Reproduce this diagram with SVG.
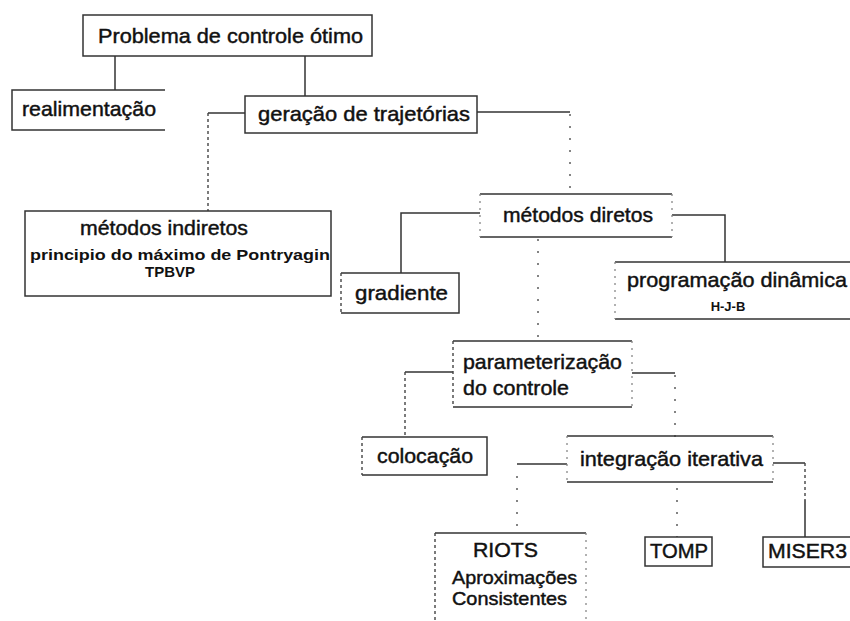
<svg xmlns="http://www.w3.org/2000/svg" width="850" height="621" viewBox="0 0 850 621">
<style>
  .bg{fill:#ffffff}
  .edge{fill:none;stroke:#333;stroke-width:1.5}
  .faint{fill:none;stroke:#888;stroke-width:1.3;stroke-dasharray:2 5}
  .dash{fill:none;stroke:#444;stroke-width:1.4;stroke-dasharray:3 3}
  .dot{fill:none;stroke:#666;stroke-width:1.6;stroke-dasharray:2 10}
  text{font-family:"Liberation Sans",Arial,sans-serif;fill:#111;font-size:21px;stroke:#111;stroke-width:0.45}
  .sm{font-size:14px;font-weight:bold;stroke-width:0}
  .mid{font-size:19px}
</style>
<rect class="bg" x="0" y="0" width="850" height="621"/>

<g id="connectors">
  <path class="edge" d="M115,56 V90"/>
  <path class="edge" d="M305,56 V96"/>
  <path class="edge" d="M245,113 H208"/>
  <path class="dash" d="M208,113 V211"/>
  <path class="edge" d="M477,112 H570"/>
  <path class="dot" d="M570,114 V194"/>
  <path class="edge" d="M480,213 H401 V273"/>
  <path class="edge" d="M672,215 H725 V262"/>
  <path class="dot" d="M538,239 V341"/>
  <path class="edge" d="M453,372 H405"/>
  <path class="dash" d="M405,372 V437"/>
  <path class="edge" d="M632,373 H675"/>
  <path class="dot" d="M675,375 V437"/>
  <path class="edge" d="M517,464 H567"/>
  <path class="dot" d="M517,476 V533"/>
  <path class="dot" d="M677,488 V537"/>
  <path class="edge" d="M773,463 H805"/>
  <path class="dash" d="M805,463 V500"/>
  <path class="edge" d="M805,500 V537"/>
</g>

<g id="n-problema">
  <rect class="edge" x="83" y="15" width="289" height="41"/>
  <text x="98" y="43" textLength="265" lengthAdjust="spacingAndGlyphs">Problema de controle ótimo</text>
</g>

<g id="n-realimentacao">
  <path class="edge" d="M165,90 H12 V130 H165"/>
  <text x="22" y="116" textLength="134" lengthAdjust="spacingAndGlyphs">realimentação</text>
</g>

<g id="n-geracao">
  <rect class="edge" x="245" y="96" width="232" height="37"/>
  <text x="258" y="121" textLength="212" lengthAdjust="spacingAndGlyphs">geração de trajetórias</text>
</g>

<g id="n-indiretos">
  <rect class="edge" x="25" y="211" width="306" height="85"/>
  <text x="80" y="235" textLength="168" lengthAdjust="spacingAndGlyphs">métodos indiretos</text>
  <text class="sm" x="30" y="260" textLength="300" lengthAdjust="spacingAndGlyphs">principio do máximo de Pontryagin</text>
  <text class="sm" x="170" y="277" text-anchor="middle" style="font-size:15px">TPBVP</text>
</g>

<g id="n-diretos">
  <path class="edge" d="M480,194 H672 M480,237 H672"/>
  <path class="faint" d="M480,194 V237 M672,194 V237"/>
  <text x="503" y="222" textLength="150" lengthAdjust="spacingAndGlyphs">métodos diretos</text>
</g>

<g id="n-gradiente">
  <path class="edge" d="M341,273 H459 V313 H341"/>
  <path class="dash" d="M341,273 V313"/>
  <text x="355" y="300" textLength="93" lengthAdjust="spacingAndGlyphs">gradiente</text>
</g>

<g id="n-programacao">
  <path class="edge" d="M615,262 H850 M615,319 H850"/>
  <path class="faint" d="M615,262 V319"/>
  <text x="627" y="287" textLength="220" lengthAdjust="spacingAndGlyphs">programação dinâmica</text>
  <text class="sm" x="728" y="311" text-anchor="middle" style="font-size:13px">H-J-B</text>
</g>

<g id="n-parameterizacao">
  <path class="edge" d="M453,341 H632 M453,407 H632"/>
  <path class="dash" d="M453,341 V407"/>
  <path class="faint" d="M632,341 V407"/>
  <text x="463" y="369" textLength="159" lengthAdjust="spacingAndGlyphs">parameterização</text>
  <text x="463" y="395" textLength="106" lengthAdjust="spacingAndGlyphs">do controle</text>
</g>

<g id="n-colocacao">
  <path class="edge" d="M362,437 H487 V475 H362"/>
  <path class="dash" d="M362,437 V475"/>
  <text x="377" y="463" textLength="96" lengthAdjust="spacingAndGlyphs">colocação</text>
</g>

<g id="n-integracao">
  <path class="edge" d="M567,436 H773 M567,482 H773"/>
  <path class="faint" d="M567,436 V482 M773,436 V482"/>
  <text x="580" y="466" textLength="183" lengthAdjust="spacingAndGlyphs">integração iterativa</text>
</g>

<g id="n-riots">
  <path class="edge" d="M435,533 H586"/>
  <path class="dash" d="M435,533 V621"/>
  <path class="faint" d="M586,533 V621"/>
  <text x="473" y="557" textLength="65" lengthAdjust="spacingAndGlyphs">RIOTS</text>
  <text class="mid" x="452" y="584" textLength="125" lengthAdjust="spacingAndGlyphs">Aproximações</text>
  <text class="mid" x="452" y="605" textLength="115" lengthAdjust="spacingAndGlyphs">Consistentes</text>
</g>

<g id="n-tomp">
  <rect class="edge" x="645" y="537" width="67" height="29"/>
  <text x="650" y="558" textLength="58" lengthAdjust="spacingAndGlyphs">TOMP</text>
</g>

<g id="n-miser3">
  <path class="edge" d="M850,537 H763 V567 H850"/>
  <text x="768" y="558" textLength="79" lengthAdjust="spacingAndGlyphs">MISER3</text>
</g>
</svg>
